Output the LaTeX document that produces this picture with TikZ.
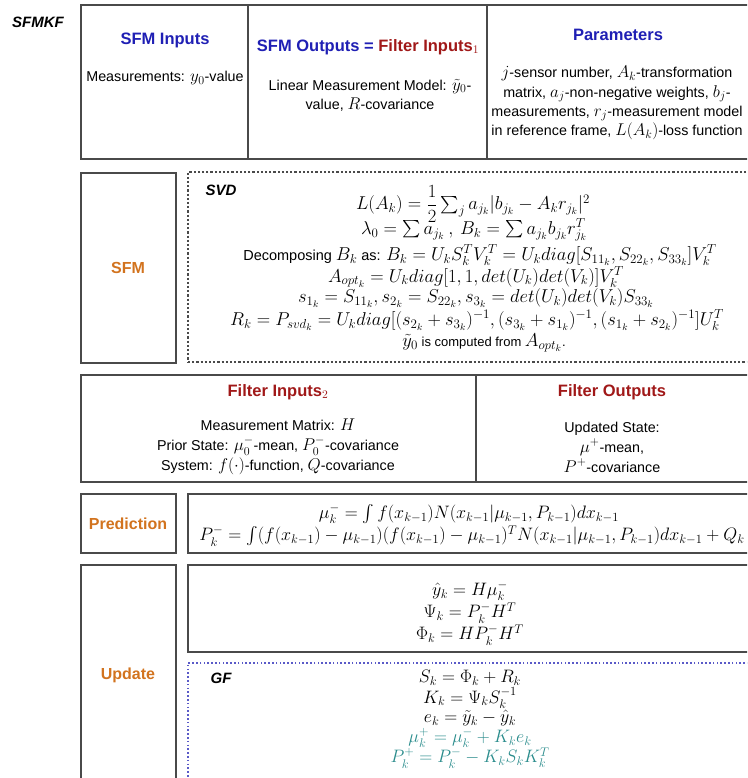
\RequirePackage{fix-cm}
\documentclass[tikz,border=0pt]{standalone}
\usepackage{amsmath}
\usepackage{fontspec}
\setmainfont{Liberation Sans}
\DeclareMathSizes{13}{18.6}{13}{9.5}
\DeclareMathSizes{13.1}{18}{12.5}{9.5}
\DeclareMathSizes{14.5}{18.6}{13}{9.5}
\DeclareMathSizes{14.3}{17}{12}{9}
\usetikzlibrary{fit}
\definecolor{ttlblue}{HTML}{1F1FB4}
\definecolor{ttlred}{HTML}{A01818}
\definecolor{ttlorange}{HTML}{D2731E}
\definecolor{tealf}{HTML}{2A8C8C}
\definecolor{boxgray}{HTML}{4A4A4A}
\definecolor{gfblue}{HTML}{5A5AC8}
\tikzset{
  frame/.style={draw=boxgray, line width=1.3pt, inner sep=0pt},
  dframe/.style={draw=boxgray, line width=1.2pt, dash pattern=on 2.2pt off 2pt, inner sep=0pt},
  gframe/.style={draw=gfblue, line width=1.3pt, dash pattern=on 1.6pt off 2.2pt, inner sep=0pt},
  ttl/.style={font=\fontsize{16.5}{19}\selectfont\bfseries, inner sep=0pt},
  body/.style={font=\fontsize{14.3}{19.3}\selectfont, align=center, inner sep=0pt},
  fbody/.style={font=\fontsize{14.3}{20}\selectfont, align=center, inner sep=0pt},
  eq/.style={font=\fontsize{13}{16}\selectfont, inner sep=0pt},
  peq/.style={font=\fontsize{13.1}{16}\selectfont, inner sep=0pt},
  eqt/.style={font=\fontsize{14.5}{16}\selectfont, inner sep=0pt},
  side/.style={font=\fontsize{16}{19}\selectfont\bfseries, text=ttlorange, inner sep=0pt},
  tag/.style={font=\fontsize{15}{18}\selectfont\bfseries\itshape, inner sep=0pt},
}
\begin{document}
\begin{tikzpicture}[x=1pt,y=-1pt]
\useasboundingbox (0,0) rectangle (747,778);
\clip (0,0) rectangle (747,778);
% boxes
\node[frame, fit={(81,5) (248,159)}] (in1) {};
\node[frame, fit={(248,5) (487,159)}] (out1) {};
\node[frame, fit={(487,5) (762,159)}] (par) {};
\node[frame, fit={(81,173) (176,363)}] (sfmbox) {};
\node[dframe, fit={(188,172) (750,362)}] (svdbox) {};
\node[frame, fit={(81,375) (476,482)}] (fin) {};
\node[frame, fit={(476,375) (762,482)}] (fout) {};
\node[frame, fit={(81,494) (176,553)}] (predlbl) {};
\node[frame, fit={(188,494) (762,553)}] (predbox) {};
\node[frame, fit={(81,565) (176,795)}] (updlbl) {};
\node[frame, fit={(188,565) (762,652)}] (updbox) {};
\node[gframe, fit={(188,663) (750,795)}] (gfbox) {};
% labels
\node[tag] (sfmkf) at (38,22) {SFMKF};
\node[ttl, text=ttlblue] (tin) at (165,40) {SFM Inputs};
\node[body] (tinb) at (165,78) {Measurements: $y_0$-value};
\node[ttl] (tout) at (368,47) {\textcolor{ttlblue}{SFM Outputs =} \textcolor{ttlred}{Filter Inputs$_1$}};
\node[body] (toutb) at (370,95) {Linear Measurement Model: $\tilde{y}_0$-\\value, $R$-covariance};
\node[ttl, text=ttlblue] (tpar) at (618,35) {Parameters};
\node[body] (tparb) at (617,103) {$j$-sensor number, $A_k$-transformation\\matrix, $a_j$-non-negative weights, $b_j$-\\measurements, $r_j$-measurement model\\in reference frame, $L(A_k)$-loss function};
% SFM
\node[side] (sfml) at (128,268) {SFM};
\node[tag] (svdl) at (221,190) {SVD};
\node[eq] (e1) at (473,204) {$L(A_k) = \dfrac{1}{2}\sum_j a_{j_k}|b_{j_k} - A_k r_{j_k}|^2$};
\node[eq] (e2) at (474,230) {$\lambda_0 = \sum a_{j_k}\ ,\ B_k = \sum a_{j_k} b_{j_k} r_{j_k}^T$};
\node[eqt] (e3) at (480,255) {Decomposing $B_k$ as: $B_k = U_k S_k^T V_k^T = U_k diag[S_{11_k}, S_{22_k}, S_{33_k}] V_k^T$};
\node[eq] (e4) at (476,277) {$A_{opt_k} = U_k diag[1,1,det(U_k)det(V_k)] V_k^T$};
\node[eq] (e5) at (476,298) {$s_{1_k} = S_{11_k}, s_{2_k} = S_{22_k}, s_{3_k} = det(U_k)det(V_k)S_{33_k}$};
\node[eq] (e6) at (477,320) {$R_k = P_{svd_k} = U_k diag[(s_{2_k} + s_{3_k})^{-1}, (s_{3_k} + s_{1_k})^{-1}, (s_{1_k} + s_{2_k})^{-1}] U_k^T$};
\node[eq] (e7) at (484,343) {$\tilde{y}_0$ is computed from $A_{opt_k}$.};
% Filter
\node[ttl, text=ttlred] (fint) at (278,392) {Filter Inputs$_2$};
\node[fbody] (finb) at (278,447) {Measurement Matrix: $H$\\Prior State: $\mu_0^-$-mean, $P_0^-$-covariance\\System: $f(\cdot)$-function, $Q$-covariance};
\node[ttl, text=ttlred] (foutt) at (612,392) {Filter Outputs};
\node[fbody] (foutb) at (612,447) {Updated State:\\$\mu^+$-mean,\\$P^+$-covariance};
% Prediction
\node[side] (predl) at (128,524) {Prediction};
\node[peq] (p1) at (469,514) {$\mu_k^- = \int f(x_{k-1}) N(x_{k-1}|\mu_{k-1}, P_{k-1}) dx_{k-1}$};
\node[peq] (p2) at (472,536) {$P_k^- = \int (f(x_{k-1}) - \mu_{k-1})(f(x_{k-1}) - \mu_{k-1})^T N(x_{k-1}|\mu_{k-1}, P_{k-1}) dx_{k-1} + Q_k$};
% Update
\node[side] (updl) at (128,675) {Update};
\node[peq] (u1) at (470,591) {$\hat{y}_k = H\mu_k^-$};
\node[peq] (u2) at (470,613) {$\Psi_k = P_k^- H^T$};
\node[peq] (u3) at (470,635) {$\Phi_k = HP_k^- H^T$};
\node[tag] (gfl) at (221,678) {GF};
\node[peq] (g1) at (470,678) {$S_k = \Phi_k + R_k$};
\node[peq] (g2) at (470,698) {$K_k = \Psi_k S_k^{-1}$};
\node[peq] (g3) at (470,718) {$e_k = \tilde{y}_k - \hat{y}_k$};
\node[peq, text=tealf] (g4) at (470,738) {$\mu_k^+ = \mu_k^- + K_k e_k$};
\node[peq, text=tealf] (g5) at (470,758) {$P_k^+ = P_k^- - K_k S_k K_k^T$};
\end{tikzpicture}
\end{document}
